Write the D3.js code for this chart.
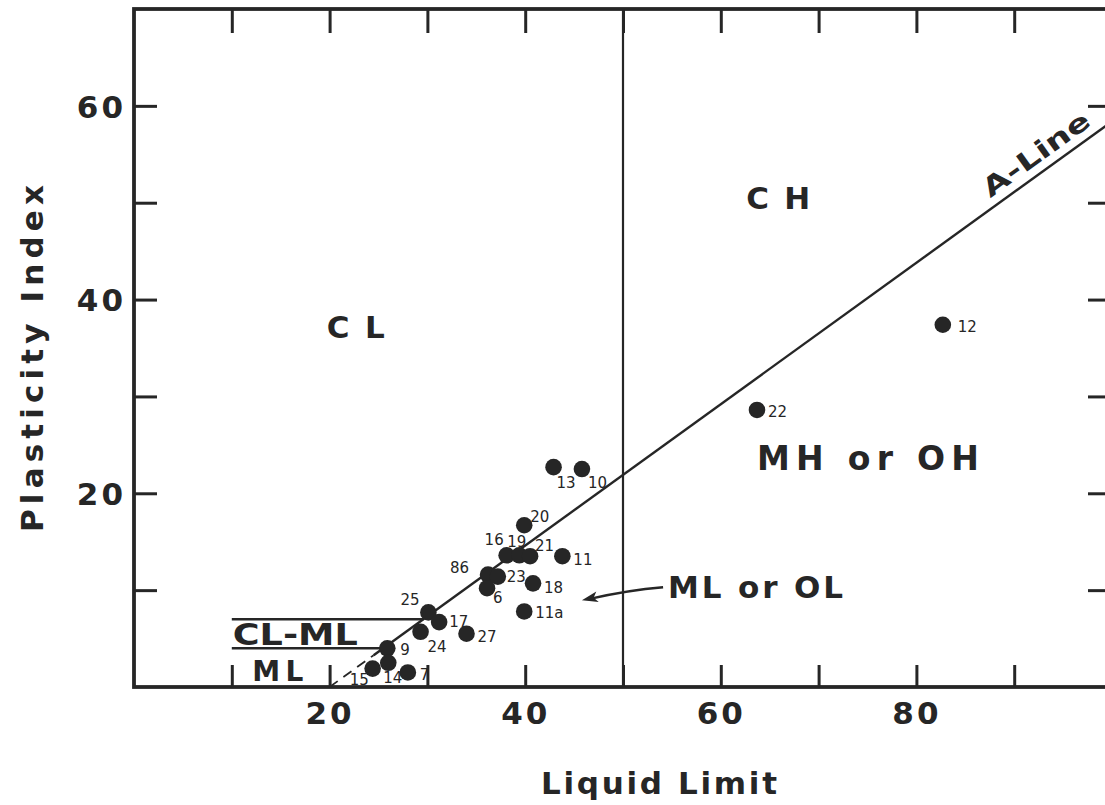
<!DOCTYPE html>
<html>
<head>
<meta charset="utf-8">
<script src="https://cdn.jsdelivr.net/npm/d3@7"></script>
<style>
  html, body { margin: 0; padding: 0; background: #ffffff; }
  svg { display: block; }
</style>
</head>
<body>
<svg id="chart" width="1105" height="805"></svg>
<script>
// Soil samples plotted on the Casagrande plasticity chart
const sampleIds = ["13", "10", "20", "16", "19", "21", "11", "86", "23", "6", "18", "11a",
                   "25", "17", "24", "27", "9", "14", "15", "7", "22", "12"];
const liquidLimit = [42.9, 45.8, 39.9, 38.1, 39.4, 40.5, 43.8, 36.2, 37.2, 36.1, 40.8, 39.9,
                     30.1, 31.2, 29.3, 34.0, 25.9, 26.0, 24.4, 28.0, 63.7, 82.7];
const plasticityIndex = [22.7, 22.5, 16.7, 13.6, 13.6, 13.5, 13.5, 11.6, 11.4, 10.2, 10.7, 7.8,
                         7.7, 6.7, 5.7, 5.5, 4.0, 2.5, 1.9, 1.5, 28.6, 37.4];

// Axis ticks and labels
const xTicks = [10, 20, 30, 40, 50, 60, 70, 80, 90];
const xTickLabels = [20, 40, 60, 80];
const yTicks = [10, 20, 30, 40, 50, 60];
const yTickLabels = [20, 40, 60];

// Classification boundaries
const aLineSlope = 0.73;         // A-line: PI = 0.73 (LL - 20)
const aLineOrigin = 20;
const aLineSolidFrom = 24.5;     // dashed below this liquid limit
const llBoundary = 50;           // low / high plasticity
const clMlBand = [4, 7];         // CL-ML band
const clMlBandStart = 10;

// Zone names (anchor in data units)
const zoneNames = ["C L", "C H", "MH or OH", "ML or OL", "CL-ML", "ML"];
const zoneLL = [19.7, 62.6, 63.7, 54.6, 10.1, 12.1];
const zonePI = [36.0, 49.4, 22.4, 9.2, 4.3, 0.65];

// ---------------------------------------------------------------
const plot = { left: 134, right: 1112, top: 9, bottom: 687 };
const ink = "#262626";

const x = d3.scaleLinear().domain([0, 100]).range([plot.left, plot.right]);
const y = d3.scaleLinear().domain([0, 70]).range([plot.bottom, plot.top]);
const aLine = ll => aLineSlope * (ll - aLineOrigin);
const aLineInverse = pi => pi / aLineSlope + aLineOrigin;

const svg = d3.select("#chart");
const font = "'DejaVu Sans', 'Liberation Sans', sans-serif";

svg.append("defs").append("clipPath").attr("id", "plotClip")
  .append("rect")
  .attr("x", plot.left).attr("y", plot.top)
  .attr("width", plot.right - plot.left).attr("height", plot.bottom - plot.top);

// Axes with inward ticks on all four sides
function styleAxis(g) {
  g.select(".domain").remove();
  g.selectAll(".tick line").attr("stroke", ink).attr("stroke-width", 3);
  g.selectAll(".tick text")
    .attr("fill", ink)
    .attr("font-family", font)
    .attr("font-weight", "bold")
    .attr("font-size", 31)
    .attr("letter-spacing", 3);
}

svg.append("g")
  .attr("transform", `translate(0,${plot.bottom})`)
  .call(d3.axisBottom(x).tickValues(xTicks).tickSize(-22).tickPadding(15)
    .tickFormat(d => xTickLabels.includes(d) ? d : ""))
  .call(styleAxis);

svg.append("g")
  .attr("transform", `translate(0,${plot.top})`)
  .call(d3.axisTop(x).tickValues(xTicks).tickSize(-24).tickFormat(""))
  .call(styleAxis);

svg.append("g")
  .attr("transform", `translate(${plot.left},0)`)
  .call(d3.axisLeft(y).tickValues(yTicks).tickSize(-23).tickPadding(8)
    .tickFormat(d => yTickLabels.includes(d) ? d : ""))
  .call(styleAxis)
  .selectAll(".tick text").attr("dy", "0.36em");

svg.append("g")
  .attr("transform", `translate(${plot.right},0)`)
  .call(d3.axisRight(y).tickValues(yTicks).tickSize(-24).tickFormat(""))
  .call(styleAxis);

// Frame
svg.append("rect")
  .attr("x", plot.left).attr("y", plot.top)
  .attr("width", plot.right - plot.left).attr("height", plot.bottom - plot.top)
  .attr("fill", "none").attr("stroke", ink).attr("stroke-width", 3.8);

const inner = svg.append("g").attr("clip-path", "url(#plotClip)");

// LL = 50 boundary
inner.append("line")
  .attr("x1", x(llBoundary)).attr("x2", x(llBoundary))
  .attr("y1", y(70)).attr("y2", y(0))
  .attr("stroke", ink).attr("stroke-width", 2.2);

// A-line (solid part and dashed toe)
inner.append("line")
  .attr("x1", x(aLineSolidFrom)).attr("y1", y(aLine(aLineSolidFrom)))
  .attr("x2", x(100)).attr("y2", y(aLine(100)))
  .attr("stroke", ink).attr("stroke-width", 2.4);
inner.append("line")
  .attr("x1", x(aLineOrigin)).attr("y1", y(0))
  .attr("x2", x(aLineSolidFrom)).attr("y2", y(aLine(aLineSolidFrom)))
  .attr("stroke", ink).attr("stroke-width", 1.8)
  .attr("stroke-dasharray", "10,7");

// CL-ML band limits
clMlBand.forEach(pi => {
  inner.append("line")
    .attr("x1", x(clMlBandStart)).attr("y1", y(pi))
    .attr("x2", x(aLineInverse(pi))).attr("y2", y(pi))
    .attr("stroke", ink).attr("stroke-width", 2.6);
});

// A-line caption, set along the line
{
  const ll0 = 88.1;
  const ang = Math.atan2(y(aLine(100)) - y(aLine(0)), x(100) - x(0)) * 180 / Math.PI;
  svg.append("text")
    .attr("transform", `translate(${x(ll0)},${y(aLine(ll0))}) rotate(${ang}) translate(0,-9)`)
    .attr("font-family", font).attr("font-weight", "bold").attr("font-size", 26)
    .attr("fill", ink)
    .attr("textLength", 126).attr("lengthAdjust", "spacingAndGlyphs")
    .text("A-Line");
}

// Zone names
const zoneWidth = { "C L": 58, "C H": 64, "MH or OH": 222, "ML or OL": 175, "CL-ML": 125, "ML": 51 };
const zoneSize = { "C L": 31, "C H": 31, "MH or OH": 33, "ML or OL": 31, "CL-ML": 31, "ML": 28 };
zoneNames.forEach((name, i) => {
  svg.append("text")
    .attr("x", x(zoneLL[i])).attr("y", y(zonePI[i]))
    .attr("font-family", font).attr("font-weight", "bold")
    .attr("font-size", zoneSize[name])
    .attr("fill", ink)
    .attr("textLength", zoneWidth[name])
    .attr("lengthAdjust", name === "CL-ML" ? "spacingAndGlyphs" : "spacing")
    .text(name);
});

// Pointer from the ML or OL label into its zone
{
  const p0 = [x(54.1), y(10.3)];
  const pc = [x(50.5), y(10.0)];
  const p1 = [x(46.6), y(9.1)];
  svg.append("path")
    .attr("d", `M${p0[0]},${p0[1]} Q${pc[0]},${pc[1]} ${p1[0]},${p1[1]}`)
    .attr("fill", "none").attr("stroke", ink).attr("stroke-width", 2.4);
  const tip = [x(45.8), y(8.95)];
  const dx = p1[0] - pc[0], dy = p1[1] - pc[1];
  const len = Math.hypot(dx, dy), ux = dx / len, uy = dy / len;
  const back = 16, half = 5.5;
  const bx = tip[0] - ux * back, by = tip[1] - uy * back;
  svg.append("path")
    .attr("d", `M${tip[0]},${tip[1]} L${bx - uy * half},${by + ux * half} L${bx + ux * 4},${by + uy * 4} L${bx + uy * half},${by - ux * half} Z`)
    .attr("fill", ink);
}

// Sample points and their numbers
const samples = sampleIds.map((id, i) => ({ id, ll: liquidLimit[i], pi: plasticityIndex[i] }));
const labelOffset = {
  "13": [3, 21], "10": [6, 19], "20": [6, -3], "16": [-22, -10], "19": [-12, -8],
  "21": [5, -5], "11": [11, 9], "86": [-38, -2], "23": [9, 5], "6": [6, 15],
  "18": [11, 10], "11a": [11, 7], "25": [-28, -7], "17": [10, 5], "24": [7, 20],
  "27": [11, 8], "9": [13, 7], "14": [-5, 20], "15": [-23, 16], "7": [12, 8],
  "22": [11, 7], "12": [15, 7]
};

svg.append("g").selectAll("circle")
  .data(samples).join("circle")
  .attr("cx", d => x(d.ll)).attr("cy", d => y(d.pi))
  .attr("r", 8.3).attr("fill", ink);

svg.append("g").selectAll("text")
  .data(samples).join("text")
  .attr("x", d => x(d.ll) + labelOffset[d.id][0])
  .attr("y", d => y(d.pi) + labelOffset[d.id][1])
  .attr("font-family", font).attr("font-size", 15)
  .attr("fill", ink)
  .text(d => d.id);

// Axis titles
svg.append("text")
  .attr("x", 541).attr("y", 794)
  .attr("font-family", font).attr("font-weight", "bold").attr("font-size", 31)
  .attr("fill", ink)
  .attr("textLength", 236).attr("lengthAdjust", "spacing")
  .text("Liquid Limit");

svg.append("text")
  .attr("transform", "translate(43,532) rotate(-90)")
  .attr("font-family", font).attr("font-weight", "bold").attr("font-size", 31)
  .attr("fill", ink)
  .attr("textLength", 347).attr("lengthAdjust", "spacing")
  .text("Plasticity Index");
</script>
</body>
</html>
